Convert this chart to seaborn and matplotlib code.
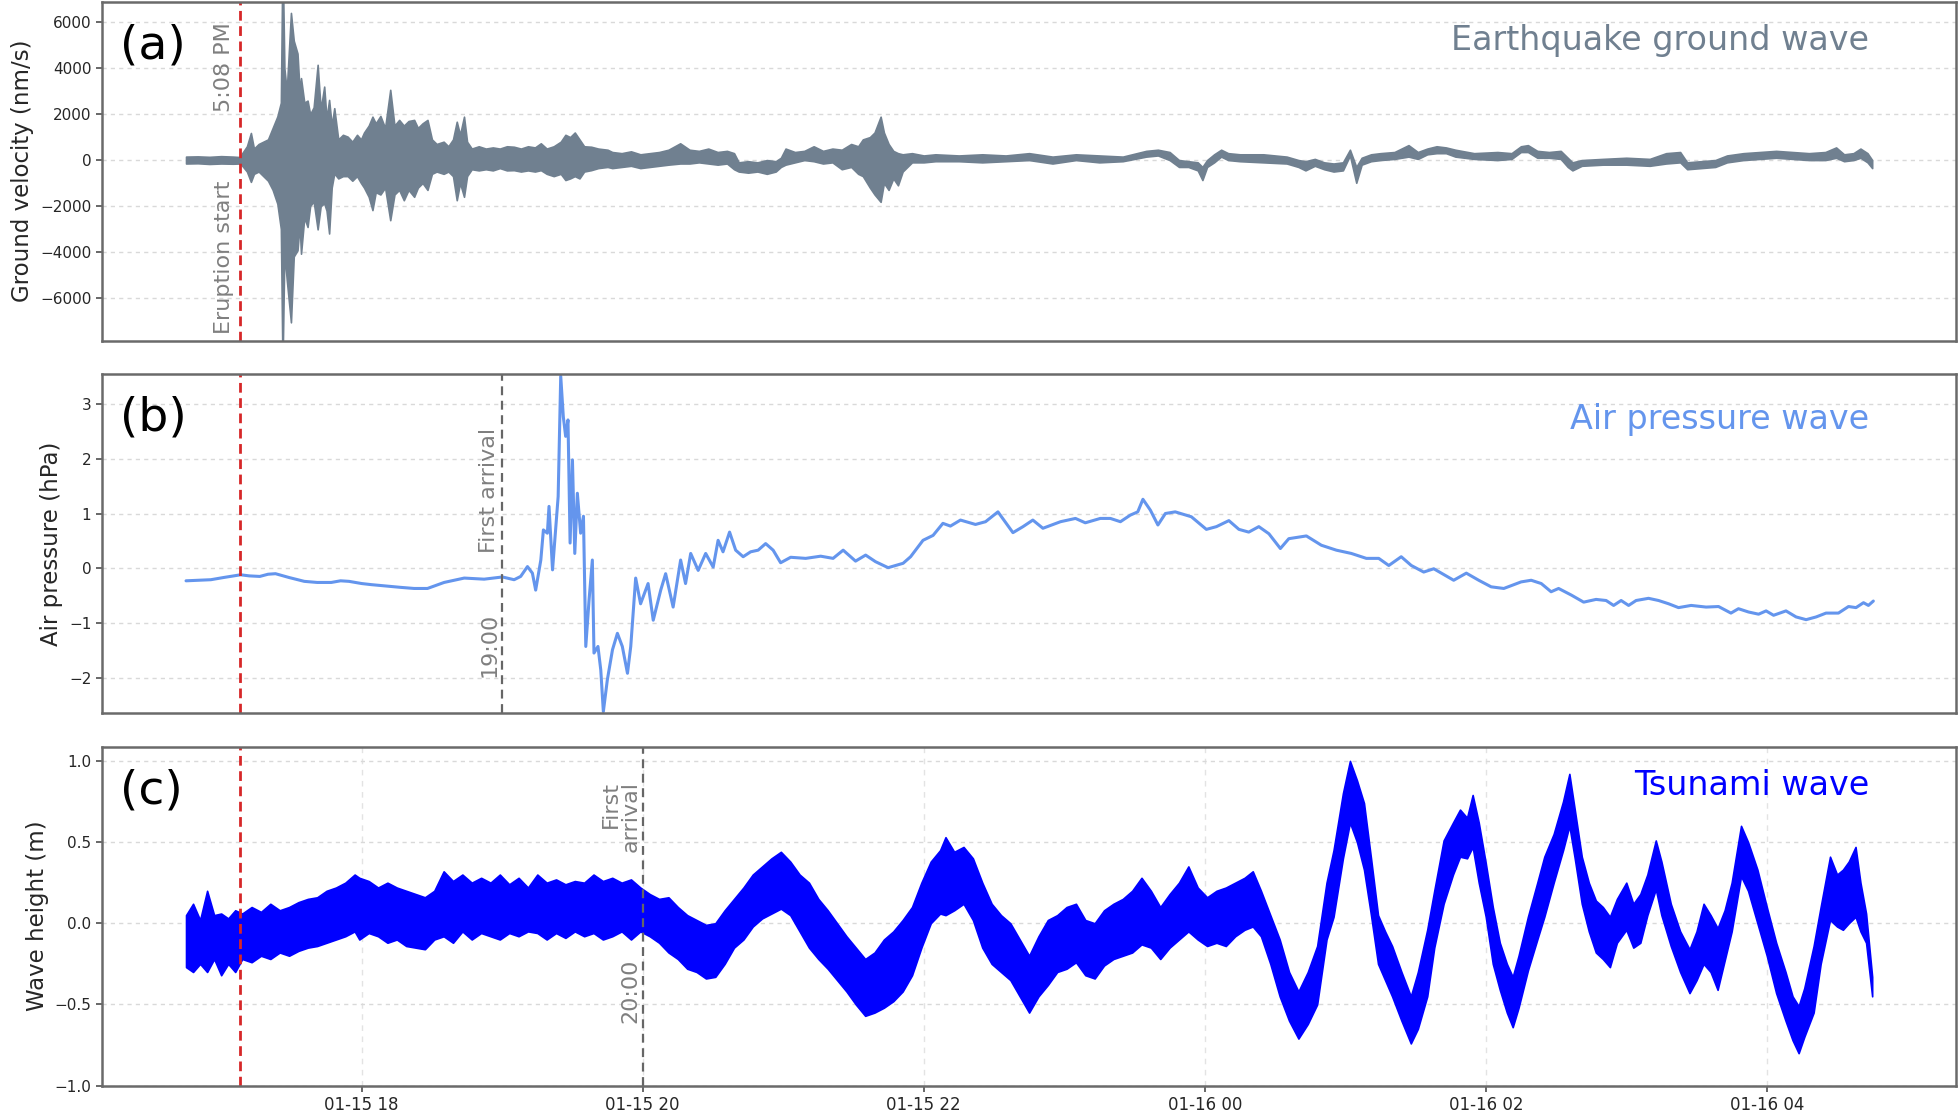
import numpy as np
import pandas as pd
import matplotlib.pyplot as plt
import matplotlib.dates as mdates
import seaborn as sns

# minutes after 2022-01-15 16:45 (record runs 12 h)
start = pd.Timestamp('2022-01-15 16:45')
eruption = pd.Timestamp('2022-01-15 17:08')
air_arrival = pd.Timestamp('2022-01-15 19:00')
sea_arrival = pd.Timestamp('2022-01-15 20:00')

# (a) ground velocity envelope, nm/s
quake_min = [0, 5, 10, 15, 20, 23, 24, 26, 27.7, 29, 31, 33, 35, 37, 39, 40.5, 41.2, 42, 43, 44.8,
             46, 47.6, 48.5, 49.1, 50.5, 51.9, 53, 54.5, 56.2, 57.5, 59, 60, 61.1, 62.2, 63.3, 65, 67, 69, 71, 73,
             74.7, 76, 78, 79.6, 81, 83, 85, 87.2, 89, 91, 93, 95, 97.4, 99, 101, 103.1, 105, 107, 110, 112,
             114, 115.6, 117, 118.7, 120, 122, 125, 128, 131, 134, 137, 140, 143, 146, 149, 151.5, 154, 157, 160, 162,
             164, 166, 168, 170, 173, 176, 180, 182, 186, 190, 194, 198, 202, 206, 211, 215, 219, 223, 227, 231,
             234, 236, 240, 244, 248, 251.8, 254, 256, 260, 264, 268, 272, 276, 280, 284, 287, 289, 292, 294, 296.6,
             298, 300, 302, 304, 306, 310, 315, 320, 330, 340, 350, 360, 370, 380, 390, 400, 410, 415, 420, 424,
             428, 432, 434, 436, 439, 442, 445, 450, 460, 470, 475, 478, 482, 486, 490, 494, 497, 499.7, 502, 506,
             510, 516, 522, 526, 530, 534, 538, 542, 550, 560, 566, 570, 573, 577, 582, 587, 590, 592, 596, 605,
             615, 625, 632, 638, 641, 647, 653, 658, 665, 672, 679, 686, 693, 700, 704.6, 708, 712, 715, 718, 720]
quake_hi = [150, 160, 140, 170, 150, 130, 300, 600, 1180, 500, 700, 800, 900, 1400, 1900, 2500, 9000, 4000, 3000, 6410,
            5200, 4640, 3000, 3570, 2500, 2590, 2000, 2300, 4150, 2200, 3200, 1800, 2620, 1500, 2260, 900, 1100, 1020, 800, 1100,
            900, 1200, 1500, 1890, 1600, 1920, 1400, 3060, 1500, 1750, 1500, 1700, 1750, 1400, 1600, 1750, 900, 700, 800, 600,
            900, 1670, 1100, 1890, 800, 500, 600, 500, 550, 500, 600, 580, 500, 600, 550, 730, 500, 600, 800, 1100,
            1000, 1200, 900, 600, 580, 500, 450, 350, 300, 380, 250, 300, 350, 450, 730, 450, 400, 500, 350, 400,
            300, -100, -50, -100, 0, -50, 100, 500, 350, 400, 600, 400, 500, 450, 700, 600, 900, 1000, 1200, 1890,
            1200, 700, 400, 300, 250, 300, 200, 250, 200, 250, 200, 300, 150, 250, 200, 150, 400, 450, 350, 0,
            -50, -100, -300, 0, 250, 450, 300, 250, 250, 150, 0, -50, 50, -100, -150, -100, 450, -300, 100, 250,
            300, 350, 650, 350, 500, 600, 550, 450, 300, 350, 300, 600, 650, 400, 350, 400, 100, -100, 0, 50,
            100, 50, 300, 350, -100, -50, 0, 200, 300, 350, 400, 350, 300, 350, 550, 250, 300, 500, 300, 0]
quake_lo = [-150, -140, -170, -150, -160, -150, -250, -500, -950, -600, -500, -700, -900, -1300, -1900, -3000, -9000, -4000, -5200, -7070,
            -4200, -3930, -2800, -4080, -2500, -2915, -2000, -1800, -3020, -2000, -1890, -2200, -3200, -1200, -580, -800, -700, -700, -900, -700,
            -1000, -1200, -1600, -2180, -1400, -1500, -1200, -2620, -1500, -1300, -1750, -1300, -1600, -1200, -1000, -1300, -600, -500, -600, -500,
            -700, -1750, -1000, -1600, -700, -400, -450, -400, -450, -350, -450, -440, -500, -450, -500, -440, -600, -700, -600, -870,
            -800, -700, -800, -500, -440, -350, -300, -350, -300, -250, -350, -300, -250, -200, -150, -150, -100, -150, -200, -150,
            -400, -500, -550, -500, -600, -500, -300, -200, -100, 0, -50, -150, -100, -400, -300, -600, -700, -1200, -1500, -1820,
            -1000, -1300, -800, -1100, -500, -100, -100, -50, -50, -100, -50, 0, -150, 0, -100, -50, 150, 200, 0, -300,
            -300, -450, -870, -300, -100, 150, 0, -50, -100, -150, -300, -450, -250, -400, -500, -450, 200, -990, -200, -50,
            0, 50, 150, 50, 250, 300, 300, 150, 50, 0, 50, 350, 350, 100, 100, 50, -300, -450, -250, -200,
            -200, -250, -150, -100, -400, -350, -300, -100, 0, 50, 100, 50, 0, 0, 100, -50, 0, 100, -100, -350]

# (b) air pressure, hPa
air_min = [0, 5, 10.6, 16, 23.3, 27, 31.5, 35, 38.2, 44, 50.5, 56, 62, 66, 69.6, 75, 79.1, 84, 88.6, 91.7,
           97.4, 103.1, 110.2, 118.8, 127.3, 135.1, 140.1, 142.9, 145.8, 147.9, 149.3, 151.5, 152.6, 154.3, 155.0, 156.5, 157.9, 158.9, 160.0, 161.1,
           162.1, 163.1, 164.0, 165.0, 166.0, 167.1, 168.5, 169.7, 170.7, 172.1, 173.5, 174.2, 175.9, 177.1, 178.2, 179.9, 182.1, 184.2, 186.3, 188.5,
           189.9, 192.0, 194.1, 197.3, 199.5, 202.7, 204.8, 208.0, 211.2, 213.3, 215.5, 218.7, 221.9, 225.1, 227.2, 229.3, 232.1, 234.7, 237.9, 241.1,
           244.3, 247.5, 250.7, 253.9, 258.2, 264.6, 271.0, 276.3, 280.6, 285.9, 290.2, 294.4, 299.8, 306.2, 309.4, 314.7, 319.0, 323.2, 326.4, 330.7,
           337.1, 341.4, 346.7, 353.1, 357.4, 361.6, 365.9, 373.4, 379.8, 384.0, 390.4, 394.7, 399.0, 403.2, 406.4, 408.6, 411.8, 415.0, 418.2, 422.4,
           429.3, 435.7, 440.0, 445.3, 449.6, 453.8, 458.1, 462.4, 467.3, 470.9, 478.4, 484.8, 491.2, 497.6, 504.0, 509.3, 513.6, 518.9, 523.2, 528.5,
           532.8, 541.3, 546.7, 552.0, 557.3, 562.7, 570.1, 574.4, 578.7, 582.9, 586.1, 591.5, 596.8, 602.1, 606.4, 609.6, 612.8, 616.0, 619.2, 624.5,
           628.8, 633.1, 637.3, 642.7, 649.1, 654.4, 659.7, 662.9, 667.2, 671.5, 674.7, 677.9, 683.2, 687.5, 691.8, 696.1, 700.3, 705.6, 709.9, 713.1,
           716.3, 718.4, 720.5]
air_hpa = [-0.23, -0.22, -0.21, -0.17, -0.12, -0.14, -0.15, -0.11, -0.10, -0.17, -0.24, -0.26, -0.26, -0.23, -0.24, -0.28, -0.30, -0.32, -0.34, -0.35,
           -0.37, -0.37, -0.26, -0.18, -0.20, -0.16, -0.21, -0.15, 0.03, -0.09, -0.40, 0.15, 0.70, 0.64, 1.13, -0.03, 0.76, 1.31, 3.51, 2.77,
           2.41, 2.71, 0.46, 1.98, 0.27, 1.37, 0.64, 0.95, -1.43, -0.58, 0.15, -1.55, -1.43, -1.86, -2.62, -2.04, -1.49, -1.19, -1.43, -1.92,
           -1.43, -0.18, -0.65, -0.28, -0.95, -0.40, -0.10, -0.71, 0.15, -0.28, 0.27, -0.04, 0.27, 0.02, 0.51, 0.30, 0.66, 0.33, 0.21, 0.30,
           0.33, 0.45, 0.33, 0.10, 0.20, 0.18, 0.22, 0.18, 0.33, 0.13, 0.24, 0.12, 0.01, 0.09, 0.21, 0.51, 0.60, 0.82, 0.77, 0.88,
           0.80, 0.85, 1.03, 0.65, 0.76, 0.88, 0.73, 0.85, 0.91, 0.83, 0.91, 0.91, 0.85, 0.97, 1.03, 1.26, 1.06, 0.79, 1.00, 1.03,
           0.94, 0.71, 0.76, 0.87, 0.71, 0.66, 0.76, 0.63, 0.36, 0.54, 0.59, 0.42, 0.33, 0.27, 0.18, 0.18, 0.05, 0.21, 0.05, -0.07,
           -0.01, -0.22, -0.09, -0.22, -0.34, -0.37, -0.25, -0.22, -0.28, -0.43, -0.37, -0.49, -0.62, -0.57, -0.59, -0.68, -0.59, -0.68, -0.59, -0.55,
           -0.59, -0.65, -0.72, -0.68, -0.71, -0.70, -0.82, -0.74, -0.80, -0.84, -0.78, -0.86, -0.78, -0.89, -0.94, -0.89, -0.82, -0.82, -0.70, -0.72,
           -0.63, -0.68, -0.60]

# (c) sea level envelope, m
sea_min = [0, 3, 6, 9, 12, 15, 18, 21, 24, 28, 32, 36, 40, 44, 48, 52, 56, 60, 64, 68,
           72, 74, 78, 82, 86, 90, 94, 98, 102, 106, 110, 114, 118, 122, 126, 130, 134, 138, 142, 146,
           150, 154, 158, 162, 166, 170, 174, 178, 182, 186, 190, 194, 198, 202, 206, 210, 214, 218, 222, 226,
           230, 234, 238, 242, 246, 250, 254, 258, 262, 266, 270, 274, 278, 282, 286, 290, 294, 298, 302, 306,
           310, 314, 318, 322, 324.3, 328, 332, 336, 340, 344, 348, 352, 356, 360, 364, 368, 372, 376, 380, 384,
           388, 392, 396, 400, 404, 408, 412, 416, 420, 424, 428, 432, 436, 440, 444, 448, 452, 455.5, 459, 463,
           467, 471, 475, 479, 483, 487, 490, 494, 497, 500, 503, 506, 509, 512, 515, 519, 523, 526, 530, 533,
           537, 541, 544, 547, 549.4, 552, 555, 558, 561, 564, 566.5, 569, 573, 577, 580, 584, 588, 590.7, 593, 596,
           599, 602, 605, 608, 611, 615, 618, 621, 624, 627.6, 630, 634, 638, 642, 645, 648, 651, 654, 657, 660,
           664, 667, 671, 675, 679, 683, 686, 688.6, 691, 695, 698, 702, 705, 707.5, 710, 712.9, 715, 717.4, 720]
sea_hi = [0.05, 0.12, 0.02, 0.20, 0.05, 0.06, 0.03, 0.08, 0.06, 0.10, 0.07, 0.12, 0.08, 0.10, 0.13, 0.15, 0.16, 0.20, 0.22, 0.25,
          0.30, 0.28, 0.26, 0.22, 0.25, 0.22, 0.20, 0.18, 0.16, 0.20, 0.32, 0.26, 0.30, 0.25, 0.28, 0.25, 0.30, 0.24, 0.28, 0.22,
          0.30, 0.25, 0.27, 0.24, 0.26, 0.25, 0.30, 0.26, 0.28, 0.25, 0.27, 0.22, 0.18, 0.15, 0.16, 0.10, 0.05, 0.02, -0.01, 0.00,
          0.08, 0.15, 0.22, 0.30, 0.35, 0.40, 0.44, 0.38, 0.30, 0.25, 0.15, 0.08, 0.00, -0.08, -0.15, -0.22, -0.18, -0.10, -0.05, 0.02,
          0.10, 0.25, 0.38, 0.45, 0.53, 0.44, 0.47, 0.40, 0.25, 0.12, 0.05, 0.00, -0.10, -0.20, -0.08, 0.02, 0.05, 0.10, 0.12, 0.02,
          0.00, 0.08, 0.12, 0.15, 0.20, 0.28, 0.20, 0.10, 0.18, 0.25, 0.35, 0.22, 0.16, 0.20, 0.22, 0.25, 0.28, 0.32, 0.20, 0.05,
          -0.10, -0.30, -0.42, -0.30, -0.14, 0.25, 0.45, 0.80, 1.00, 0.88, 0.74, 0.40, 0.05, -0.05, -0.14, -0.30, -0.45, -0.30, -0.04, 0.20,
          0.51, 0.62, 0.70, 0.65, 0.79, 0.62, 0.37, 0.10, -0.12, -0.25, -0.33, -0.20, 0.04, 0.25, 0.41, 0.55, 0.75, 0.92, 0.70, 0.41,
          0.25, 0.14, 0.10, 0.04, 0.15, 0.25, 0.12, 0.18, 0.30, 0.51, 0.38, 0.12, -0.05, -0.16, -0.05, 0.12, 0.05, -0.03, 0.08, 0.25,
          0.60, 0.50, 0.33, 0.10, -0.12, -0.30, -0.45, -0.51, -0.40, -0.14, 0.10, 0.41, 0.30, 0.33, 0.38, 0.47, 0.25, 0.06, -0.33]
sea_lo = [-0.27, -0.30, -0.25, -0.30, -0.22, -0.32, -0.25, -0.30, -0.22, -0.24, -0.20, -0.22, -0.18, -0.20, -0.17, -0.15, -0.14, -0.12, -0.10, -0.08,
          -0.05, -0.10, -0.06, -0.08, -0.12, -0.10, -0.14, -0.15, -0.16, -0.10, -0.08, -0.12, -0.05, -0.10, -0.06, -0.08, -0.10, -0.06, -0.08, -0.05,
          -0.06, -0.10, -0.06, -0.09, -0.05, -0.08, -0.06, -0.10, -0.08, -0.05, -0.10, -0.05, -0.08, -0.12, -0.18, -0.22, -0.28, -0.30, -0.34, -0.33,
          -0.25, -0.15, -0.10, -0.02, 0.03, 0.06, 0.09, 0.05, -0.05, -0.15, -0.22, -0.28, -0.35, -0.42, -0.50, -0.57, -0.55, -0.52, -0.48, -0.42,
          -0.32, -0.15, 0.00, 0.06, 0.05, 0.08, 0.12, 0.02, -0.15, -0.25, -0.30, -0.35, -0.45, -0.55, -0.45, -0.38, -0.30, -0.28, -0.24, -0.32,
          -0.34, -0.26, -0.22, -0.20, -0.18, -0.13, -0.15, -0.22, -0.15, -0.10, -0.05, -0.10, -0.14, -0.12, -0.14, -0.08, -0.04, -0.02, -0.08, -0.25,
          -0.45, -0.60, -0.71, -0.62, -0.50, -0.10, 0.04, 0.40, 0.62, 0.50, 0.33, 0.05, -0.25, -0.35, -0.45, -0.60, -0.74, -0.65, -0.45, -0.15,
          0.12, 0.30, 0.41, 0.40, 0.47, 0.25, 0.04, -0.25, -0.41, -0.55, -0.64, -0.52, -0.29, -0.10, 0.04, 0.25, 0.45, 0.60, 0.40, 0.12,
          -0.05, -0.18, -0.22, -0.27, -0.12, -0.04, -0.15, -0.12, 0.05, 0.21, 0.05, -0.14, -0.30, -0.43, -0.35, -0.25, -0.30, -0.41, -0.23, -0.05,
          0.29, 0.20, 0.00, -0.20, -0.43, -0.60, -0.72, -0.80, -0.70, -0.55, -0.25, 0.02, -0.02, -0.04, 0.00, 0.04, -0.05, -0.12, -0.45]


def to_time(mins):
    return (start + pd.to_timedelta(np.array(mins), unit='min')).values


sns.set_theme(style='white')
plt.rcParams['font.family'] = ['DejaVu Sans']

fig = plt.figure(figsize=(19.6, 11.12), dpi=100)
left, width = 0.0519, 0.9463
ax_a = fig.add_axes([left, 0.6936, width, 0.3049])
ax_b = fig.add_axes([left, 0.3591, width, 0.3046], sharex=ax_a)
ax_c = fig.add_axes([left, 0.0237, width, 0.3049], sharex=ax_a)

quake_color = '#708090'
air_color = '#6495ED'
sea_color = '#0000FF'
note_color = '#7f7f7f'

# (a)
tq = to_time(quake_min)
ax_a.fill_between(tq, quake_lo, quake_hi, color=quake_color, lw=1.2, edgecolor=quake_color)
ax_a.set_ylim(-7870, 6900)
ax_a.set_yticks([-6000, -4000, -2000, 0, 2000, 4000, 6000])
ax_a.set_ylabel('Ground velocity (nm/s)', fontsize=16.5)

# (b)
sns.lineplot(x=to_time(air_min), y=air_hpa, ax=ax_b, color=air_color, lw=2.2, sort=False)
ax_b.set_ylim(-2.64, 3.55)
ax_b.set_yticks([-2, -1, 0, 1, 2, 3])
ax_b.set_ylabel('Air pressure (hPa)', fontsize=16.5)

# (c)
ts = to_time(sea_min)
ax_c.fill_between(ts, sea_lo, sea_hi, color=sea_color, lw=1.2, edgecolor=sea_color)
ax_c.set_ylim(-1.0, 1.088)
ax_c.set_yticks([-1.0, -0.5, 0.0, 0.5, 1.0])
ax_c.set_ylabel('Wave height (m)', fontsize=16.5)

pad = pd.Timedelta(minutes=36)
ax_a.set_xlim(start - pad, start + pd.Timedelta(hours=12) + pad)
ax_c.xaxis.set_major_locator(mdates.HourLocator(byhour=range(0, 24, 2)))
ax_c.xaxis.set_major_formatter(mdates.DateFormatter('%m-%d %H'))

titles = ['Earthquake ground wave', 'Air pressure wave', 'Tsunami wave']
tags = ['(a)', '(b)', '(c)']
colors = [quake_color, air_color, sea_color]
title_y = [0.935, 0.915, 0.935]
for ax, title, tag, col, ty in zip([ax_a, ax_b, ax_c], titles, tags, colors, title_y):
    ax.axvline(eruption, color='#d62728', ls=(0, (3.5, 2)), lw=2)
    ax.grid(axis='y', ls=(0, (3, 3)), color='#d9d9d9', lw=1)
    ax.text(0.953, ty, title, transform=ax.transAxes, ha='right', va='top', fontsize=24, color=col)
    ax.text(0.010, 0.935, tag, transform=ax.transAxes, ha='left', va='top', fontsize=34, color='black')
    for s in ax.spines.values():
        s.set_color('#6a6a6a')
        s.set_linewidth(1.8)
    ax.tick_params(axis='y', labelsize=11, length=4, color='#555555', left=True)
    ax.set_xlabel('')

for ax in [ax_a, ax_b]:
    ax.tick_params(axis='x', bottom=False, labelbottom=False)
ax_c.tick_params(axis='x', labelsize=12, length=4, color='#555555', bottom=True)
ax_c.grid(axis='x', ls=(0, (4, 4)), color='#e3e3e3', lw=1)

# vertical event notes
trans_a = ax_a.get_xaxis_transform()
note_x = eruption - pd.Timedelta(minutes=2.5)
ax_a.text(note_x, 0.94, '5:08 PM', transform=trans_a, rotation=90, ha='right', va='top',
          fontsize=16, color=note_color)
ax_a.text(note_x, 0.02, 'Eruption start', transform=trans_a, rotation=90, ha='right', va='bottom',
          fontsize=16, color=note_color)

ax_b.axvline(air_arrival, color='#666666', ls=(0, (4, 2.5)), lw=1.6)
trans_b = ax_b.get_xaxis_transform()
bx = air_arrival - pd.Timedelta(minutes=1.2)
ax_b.text(bx, 0.84, 'First arrival', transform=trans_b, rotation=90, ha='right', va='top',
          fontsize=16, color=note_color)
ax_b.text(bx, 0.105, '19:00', transform=trans_b, rotation=90, ha='right', va='bottom',
          fontsize=16, color=note_color)

ax_c.axvline(sea_arrival, color='#666666', ls=(0, (4, 2.5)), lw=1.6)
trans_c = ax_c.get_xaxis_transform()
cx = sea_arrival - pd.Timedelta(minutes=0.8)
ax_c.text(cx, 0.90, 'First\narrival', transform=trans_c, rotation=90, ha='right', va='top',
          fontsize=16, color=note_color, multialignment='right', linespacing=1.0)
ax_c.text(cx, 0.185, '20:00', transform=trans_c, rotation=90, ha='right', va='bottom',
          fontsize=16, color=note_color)

fig.savefig('out.png', dpi=100)
